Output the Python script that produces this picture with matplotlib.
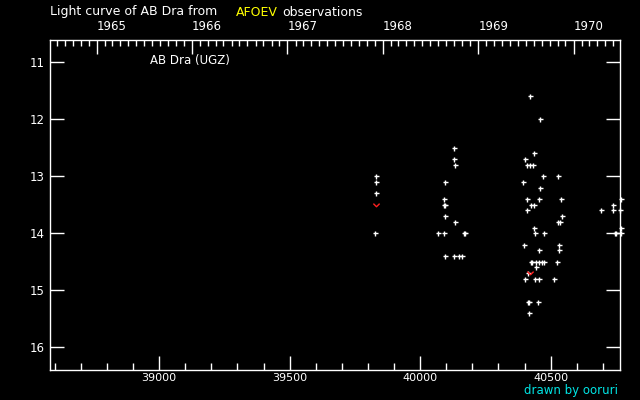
import datetime as dt
import numpy as np
import matplotlib
matplotlib.use("Agg")
import matplotlib.pyplot as plt

# visual estimates (JD - 2400000, magnitude)
jd = [39832, 39832, 39832, 39828,
      40131, 40131, 40134, 40096, 40092, 40092, 40096, 40096, 40134,
      40069, 40092, 40169, 40173, 40096, 40131, 40150, 40161,
      40422, 40460, 40437, 40403, 40410, 40422, 40433,
      40472, 40529, 40395, 40460, 40410, 40456, 40541,
      40426, 40437, 40410, 40544, 40529, 40537,
      40437, 40441, 40475, 40399, 40533, 40456, 40533,
      40426, 40429, 40445, 40456, 40468, 40475, 40525,
      40445, 40414, 40403, 40441, 40456, 40514,
      40414, 40418, 40453, 40418,
      40694, 40740, 40740, 40770, 40767, 40770, 40746, 40751, 40770]
mag = [13.0, 13.1, 13.3, 14.0,
       12.5, 12.7, 12.8, 13.1, 13.4, 13.5, 13.5, 13.7, 13.8,
       14.0, 14.0, 14.0, 14.0, 14.4, 14.4, 14.4, 14.4,
       11.6, 12.0, 12.6, 12.7, 12.8, 12.8, 12.8,
       13.0, 13.0, 13.1, 13.2, 13.4, 13.4, 13.4,
       13.5, 13.5, 13.6, 13.7, 13.8, 13.8,
       13.9, 14.0, 14.0, 14.2, 14.2, 14.3, 14.3,
       14.5, 14.5, 14.5, 14.5, 14.5, 14.5, 14.5,
       14.6, 14.7, 14.8, 14.8, 14.8, 14.8,
       15.2, 15.2, 15.2, 15.4,
       13.6, 13.5, 13.6, 13.4, 13.6, 13.9, 14.0, 14.0, 14.0]

# "fainter than" observations
jd_lim = [39832, 40422]
mag_lim = [13.5, 14.7]

years = [1965, 1966, 1967, 1968, 1969, 1970]
y_ticks = [11, 12, 13, 14, 15, 16]
x_ticks = [39000, 39500, 40000, 40500]

def to_jd(d):
    # JD - 2400000 of a calendar date
    return (d - dt.date(1858, 11, 17)).days + 0.5

W = 'white'
fs = 8.5
fig = plt.figure(figsize=(6.4, 4.0), dpi=100, facecolor='black')
ax = fig.add_axes([50/640, 30/400, 570.4/640, 330/400], facecolor='black')

ax.plot(jd, mag, '+', color=W, ms=3.6, mew=1.0, clip_on=False)
ax.plot(jd_lim, mag_lim, ls='none', marker=[(-1, 0.6), (0, -0.4), (1, 0.6)],
        mfc='none', mec='#ff2020', ms=4.5, mew=1.0)

ax.set_xlim(38582, 40767)
ax.set_ylim(16.4, 10.61)

for s in ax.spines.values():
    s.set_color(W)
    s.set_linewidth(1.0)

ax.set_xticks(x_ticks)
ax.set_xticks(np.arange(38600, 40800, 100), minor=True)
ax.set_yticks(y_ticks)
ax.set_yticklabels([str(v) for v in y_ticks])
ax.tick_params(axis='x', which='major', direction='in', length=10, width=1,
               color=W, labelcolor=W, labelsize=8, pad=2, top=False)
ax.tick_params(axis='x', which='minor', direction='in', length=5, width=1,
               color=W, top=False)
ax.tick_params(axis='y', which='major', direction='in', length=10, width=1,
               color=W, labelcolor=W, labelsize=fs, pad=4, right=True)

# calendar axis on top
top = ax.twiny()
top.set_xlim(ax.get_xlim())
top.set_xticks([to_jd(dt.date(y, 1, 1)) for y in years])
top.set_xticklabels([str(y) for y in years], ha='left')
months = [to_jd(dt.date(y, m, 1)) for y in range(1964, 1971) for m in range(1, 13)]
months = [m for m in months if 38582 <= m <= 40767]
top.set_xticks(months, minor=True)
top.tick_params(axis='x', which='major', direction='in', length=10, width=1,
                color=W, labelcolor=W, labelsize=fs, pad=5)
top.tick_params(axis='x', which='minor', direction='in', length=4, width=1, color=W)
for s in top.spines.values():
    s.set_visible(False)

# titles
fig.text(50/640, 1 - 12/400, 'Light curve of AB Dra from', color=W,
         fontsize=9, va='center', ha='left')
fig.text(236/640, 1 - 12/400, 'AFOEV', color='yellow',
         fontsize=9, va='center', ha='left')
fig.text(282/640, 1 - 12/400, 'observations', color=W,
         fontsize=9, va='center', ha='left')
fig.text(150/640, 1 - 60.5/400, 'AB Dra (UGZ)', color=W,
         fontsize=fs, va='center', ha='left')
fig.text(618/640, 1 - 390.5/400, 'drawn by ooruri', color='#00e5e5',
         fontsize=fs, va='center', ha='right')

plt.savefig('out.png', dpi=100, facecolor='black')
